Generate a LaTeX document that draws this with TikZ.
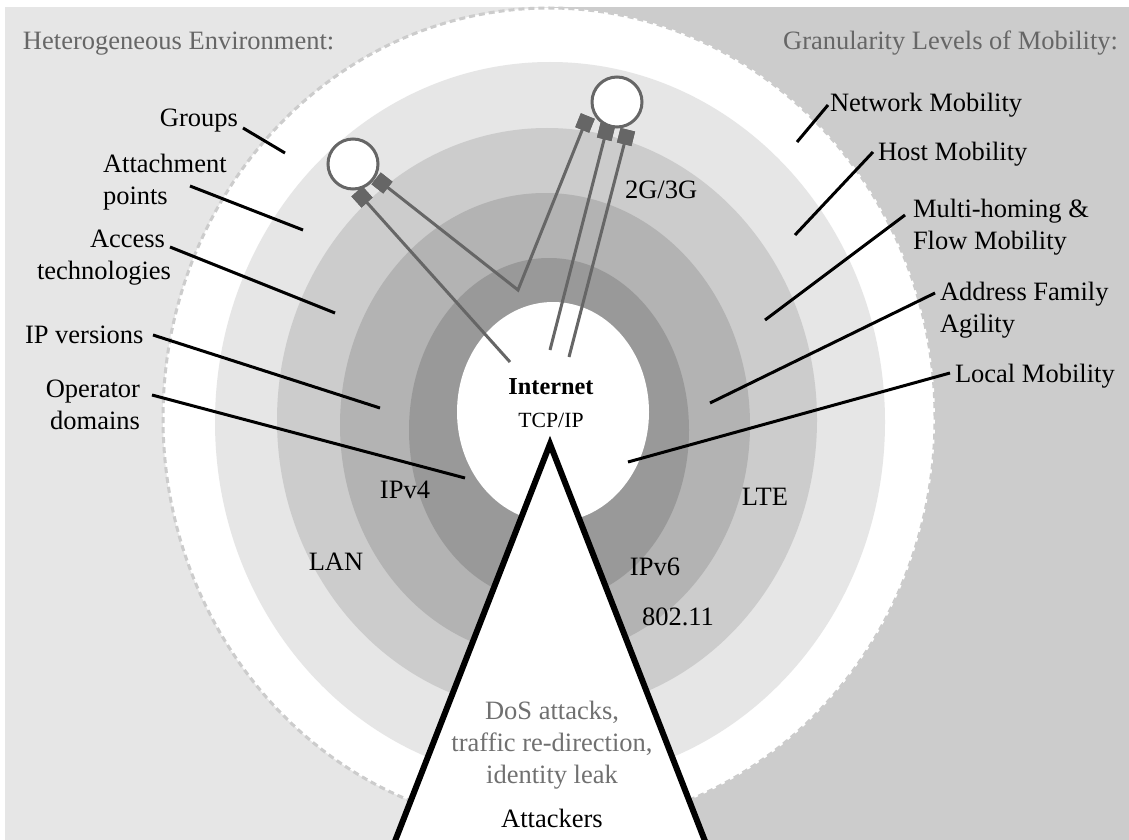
\documentclass[tikz,border=0pt]{standalone}
\usepackage{fontspec}
\setmainfont{Liberation Serif}
\usetikzlibrary{calc}
\definecolor{bgleft}{HTML}{E6E6E6}
\definecolor{bgright}{HTML}{CCCCCC}
\definecolor{ringA}{HTML}{E6E6E6}
\definecolor{ringB}{HTML}{CCCCCC}
\definecolor{ringC}{HTML}{B3B3B3}
\definecolor{ringD}{HTML}{999999}
\definecolor{devgray}{HTML}{666666}
\definecolor{headgray}{HTML}{666666}
\definecolor{threatgray}{HTML}{707070}
\newcommand{\lblfont}{\fontsize{26.5}{32}\selectfont}
\begin{document}
\begin{tikzpicture}[x=1pt,y=-1pt,
  txt/.style={font=\lblfont, inner sep=0pt, outer sep=0pt},
  head/.style={txt, text=headgray},
  lead/.style={line width=3pt, black},
  cable/.style={line width=3pt, devgray},
  plug/.style={fill=devgray, minimum size=15pt, inner sep=0pt, draw=none},
  device/.style={circle, draw=devgray, line width=3pt, fill=white, minimum size=50pt, inner sep=0pt},
]
\useasboundingbox (0,0) rectangle (1129,840);
\clip (0,0) rectangle (1129,840);
% backdrop: two halves
\fill[white] (0,0) rectangle (1129,840);
\fill[bgleft] (5,7) rectangle (549,840);
\fill[bgright] (549,7) rectangle (1129,840);

% nested domains
\fill[white] (549,418) ellipse [x radius=386pt, y radius=410pt];
\draw[bgright, line width=3pt, dash pattern=on 6pt off 4pt] (549,418) ellipse [x radius=386pt, y radius=410pt];
\fill[ringA] (550,422) ellipse [x radius=335pt, y radius=360pt];
\fill[ringB] (547,420) ellipse [x radius=270pt, y radius=292pt];
\fill[ringC] (545,425) ellipse [x radius=205pt, y radius=232pt];
\fill[ringD] (549,430) ellipse [x radius=140pt, y radius=172pt];
\fill[white] (553,412) ellipse [x radius=96pt, y radius=110pt];
\coordinate (hub) at (553,412);
\node[txt, font=\fontsize{24.3}{28}\selectfont\bfseries, anchor=base] (inet) at (551,394) {Internet};
\node[txt, font=\fontsize{21.7}{26}\selectfont, anchor=base] (tcpip) at (551,427) {TCP/IP};

% ring labels
\node[txt, anchor=base west] (g23) at (625,198) {2G/3G};
\node[txt] (ipv4) at (405,490) {IPv4};
\node[txt] (lan) at (336,562) {LAN};
\node[txt] (lte) at (765,497) {LTE};
\node[txt] (ipv6) at (655,567) {IPv6};
\node[txt, anchor=base west] (wifi) at (642,625) {802.11};

% mobile devices and their attachments
\coordinate (hA) at (510,362);
\coordinate (hB) at (550,350);
\coordinate (hC) at (569,357);
\coordinate (handover) at (518,290);
\node[plug, rotate=42.2] (a1) at (362,197) {};
\node[plug, rotate=51.7] (a2) at (382,183) {};
\node[plug, rotate=-22] (b1) at (585,123) {};
\node[plug, rotate=-14] (b2) at (606,132) {};
\node[plug, rotate=-14] (b3) at (626,137) {};
\draw[cable] (a1.center) -- (hA);
\draw[cable] (a2.center) -- (handover) -- (b1.center);
\draw[cable] (b2.center) -- (hB);
\draw[cable] (b3.center) -- (hC);
\node[device] (devA) at (353,164) {};
\node[device] (devB) at (617,102) {};
\node[plug, rotate=42.2] at (a1) {};
\node[plug, rotate=51.7] at (a2) {};
\node[plug, rotate=-22] at (b1) {};
\node[plug, rotate=-14] at (b2) {};
\node[plug, rotate=-14] at (b3) {};

% attackers
\draw[line width=6pt, fill=white, line join=miter] (372,900) -- (550,444) -- (728,900);
\node[txt, text=threatgray, anchor=base] (threats) at (552,719)
  {\begin{tabular}[t]{@{}c@{}}DoS attacks,\\traffic re-direction,\\identity leak\end{tabular}};
\node[txt, anchor=base] (attackers) at (552,827) {Attackers};

% headings
\node[head, anchor=base west] (henv) at (23,50) {Heterogeneous Environment:};
\node[head, anchor=base east] (gran) at (1118,50) {Granularity Levels of Mobility:};

% heterogeneity dimensions
\coordinate (tGroups) at (285,153);
\coordinate (tAttach) at (303,230);
\coordinate (tAccess) at (335,313);
\coordinate (tIP) at (380,408);
\coordinate (tOper) at (465,478);
\node[txt, anchor=base east] (groups) at (238,127) {Groups};
\node[txt, anchor=base west] (attach) at (103,172) {\begin{tabular}[t]{@{}l@{}}Attachment\\points\end{tabular}};
\node[txt, anchor=base west] (access) at (37,247) {\begin{tabular}[t]{@{}l@{}}\hspace*{53pt}Access\\technologies\end{tabular}};
\node[txt, anchor=base west] (ipver) at (25,343) {IP versions};
\node[txt, anchor=base east] (oper) at (140,397) {\begin{tabular}[t]{@{}r@{}}Operator\\domains\end{tabular}};
\draw[lead] (groups.base east) ++(5,1) -- (tGroups);
\draw[lead] (attach.base west) ++(87,14) -- (tAttach);
\draw[lead] (access.base west) ++(133,0) -- (tAccess);
\draw[lead] (ipver.base west) ++(128,-8) -- (tIP);
\draw[lead] (oper.base east) ++(12,-2) -- (tOper);

% mobility granularity levels
\coordinate (tNet) at (797,142);
\coordinate (tHost) at (795,235);
\coordinate (tMulti) at (765,320);
\coordinate (tAddr) at (710,403);
\coordinate (tLocal) at (628,462);
\node[txt, anchor=base west] (netmob) at (830,112) {Network Mobility};
\node[txt, anchor=base west] (hostmob) at (878,160) {Host Mobility};
\node[txt, anchor=base west] (multi) at (913,217) {\begin{tabular}[t]{@{}l@{}}Multi-homing \&\\Flow Mobility\end{tabular}};
\node[txt, anchor=base west] (addr) at (940,300) {\begin{tabular}[t]{@{}l@{}}Address Family\\Agility\end{tabular}};
\node[txt, anchor=base west] (local) at (955,382) {Local Mobility};
\draw[lead] (netmob.base west) ++(-2,-7) -- (tNet);
\draw[lead] (hostmob.base west) ++(-5,-8) -- (tHost);
\draw[lead] (multi.base west) ++(-8,-2) -- (tMulti);
\draw[lead] (addr.base west) ++(-5,-7) -- (tAddr);
\draw[lead] (local.base west) ++(-5,-9) -- (tLocal);
\end{tikzpicture}
\end{document}
